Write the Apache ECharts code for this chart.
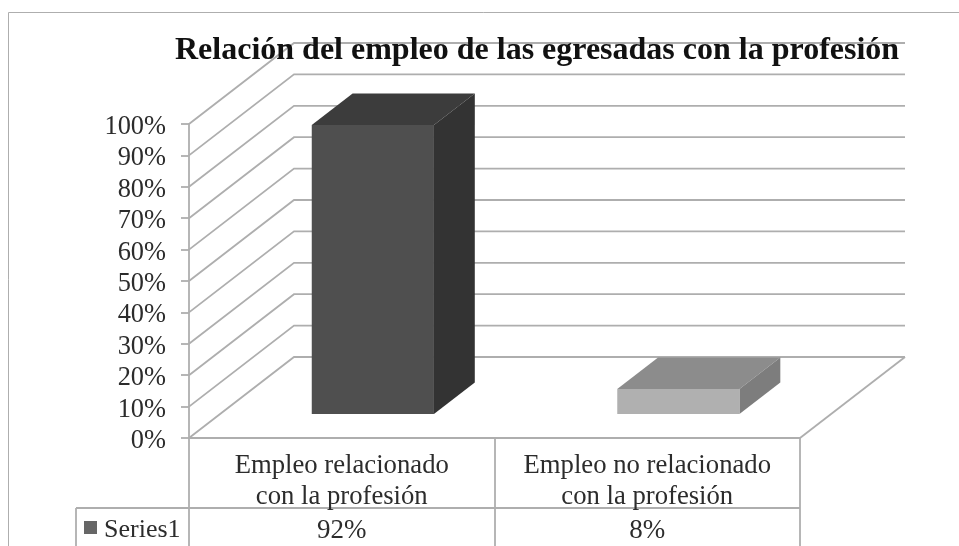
<!DOCTYPE html>
<html>
<head>
<meta charset="utf-8">
<style>html,body{margin:0;padding:0;background:#fff}#c{width:959px;height:546px;filter:blur(0.45px)}</style>
<script src="https://cdn.jsdelivr.net/npm/echarts@6/dist/echarts.min.js"></script>
</head>
<body>
<div id="c"></div>
<script>
const titleText = 'Relación del empleo de las egresadas con la profesión';
const categories = ['Empleo relacionado\ncon la profesión', 'Empleo no relacionado\ncon la profesión'];
const seriesName = 'Series1';
const seriesValues = [92, 8];
const gridValues = [0, 10, 20, 30, 40, 50, 60, 70, 80, 90, 100];
const faceColors = [
  { front: '#4f4f4f', top: '#3c3c3c', side: '#333333' },
  { front: '#b0b0b0', top: '#8c8c8c', side: '#7d7d7d' }
];

const LINE = '#aeaeae', TEXT = '#2c2c2c', FONT = '"Liberation Serif", serif';
const DX = 105, DY = -81;          // wall depth vector
const F0 = 24 / 81, F1 = 55.5 / 81; // bar depth start / end
const BAR = 0.4;                   // bar width as a share of the band

function wallLine(params, api) {
  const cs = params.coordSys;
  const y = api.coord([0, api.value(1)])[1];
  const style = { stroke: LINE, lineWidth: 1.8, fill: null };
  const kids = [{
    type: 'polyline',
    shape: { points: [[cs.x, y], [cs.x + DX, y + DY], [cs.x + cs.width + DX, y + DY]] },
    style
  }];
  if (api.value(1) === 0) {
    kids.push({
      type: 'line',
      shape: { x1: cs.x + cs.width, y1: y, x2: cs.x + cs.width + DX, y2: y + DY },
      style
    });
  }
  return { type: 'group', children: kids };
}

function bar3d(params, api) {
  const i = api.value(0);
  const c = api.coord([i, api.value(1)]);
  const b = api.coord([i, 0]);
  const w = api.size([1, 0])[0] * BAR;
  const x0 = c[0] - w / 2 + DX * F0, x1 = x0 + w;
  const yb = b[1] + DY * F0, yt = c[1] + DY * F0;
  const ddx = DX * (F1 - F0), ddy = DY * (F1 - F0);
  const col = faceColors[i];
  const poly = (pts, fill) => ({ type: 'polygon', shape: { points: pts }, style: { fill } });
  return {
    type: 'group',
    children: [
      poly([[x0, yt], [x1, yt], [x1 + ddx, yt + ddy], [x0 + ddx, yt + ddy]], col.top),
      poly([[x1, yb], [x1 + ddx, yb + ddy], [x1 + ddx, yt + ddy], [x1, yt]], col.side),
      poly([[x0, yb], [x1, yb], [x1, yt], [x0, yt]], col.front)
    ]
  };
}

const chart = echarts.init(document.getElementById('c'), null, { renderer: 'canvas' });
chart.setOption({
  animation: false,
  backgroundColor: '#ffffff',
  title: {
    text: titleText, left: 175, top: 35, padding: 0, z: 10,
    textStyle: { fontFamily: FONT, fontWeight: 'bold', fontSize: 32, color: '#111111' }
  },
  legend: {
    left: 84, top: 517, padding: 0, icon: 'rect', itemWidth: 13, itemHeight: 13,
    data: [{ name: seriesName, itemStyle: { color: '#666666' } }],
    formatter: name => '{a|' + name + '}',
    textStyle: {
      fontFamily: FONT, fontSize: 26, color: TEXT,
      rich: { a: { fontFamily: FONT, fontSize: 26, color: TEXT, padding: [5, 0, 0, 2] } }
    }
  },
  grid: { left: 189, top: 124, width: 611, height: 314, containLabel: false },
  xAxis: [{
    type: 'category', data: categories,
    axisLine: { show: true, lineStyle: { color: LINE, width: 1.8 } },
    axisTick: { show: true, length: 108, lineStyle: { color: LINE, width: 1.8 } },
    axisLabel: { margin: 12, interval: 0, lineHeight: 31, fontFamily: FONT, fontSize: 26.7, color: TEXT },
    splitLine: { show: false }
  }, {
    type: 'category', position: 'bottom',
    data: seriesValues.map(v => v + '%'),
    axisLine: { show: false }, axisTick: { show: false },
    axisLabel: { margin: 79, interval: 0, fontFamily: FONT, fontSize: 27, color: TEXT },
    splitLine: { show: false }
  }],
  yAxis: {
    type: 'value', min: 0, max: 100, interval: 10,
    axisLine: { show: true, lineStyle: { color: LINE, width: 1.8 } },
    axisTick: { show: true, length: 8, lineStyle: { color: LINE, width: 1.8 } },
    axisLabel: {
      margin: 23, formatter: v => '{a|' + v + '%}',
      rich: { a: { fontFamily: FONT, fontSize: 26.4, color: TEXT, padding: [6, 0, 0, 0] } }
    },
    splitLine: { show: false }
  },
  graphic: [
    { type: 'line', silent: true, shape: { x1: 8.5, y1: 12.5, x2: 959, y2: 12.5 }, style: { stroke: LINE, lineWidth: 1 } },
    { type: 'line', silent: true, shape: { x1: 8.5, y1: 12.5, x2: 8.5, y2: 546 }, style: { stroke: LINE, lineWidth: 1 } },
    { type: 'line', silent: true, shape: { x1: 76, y1: 508, x2: 800, y2: 508 }, style: { stroke: LINE, lineWidth: 1.8 } },
    { type: 'line', silent: true, shape: { x1: 76, y1: 508, x2: 76, y2: 546 }, style: { stroke: LINE, lineWidth: 1.8 } }
  ],
  series: [{
    type: 'custom', name: 'walls', silent: true, z: 1,
    renderItem: wallLine,
    encode: { x: 0, y: 1 },
    data: gridValues.map(v => [0, v])
  }, {
    type: 'custom', name: seriesName, z: 2,
    itemStyle: { color: '#666666' },
    renderItem: bar3d,
    encode: { x: 0, y: 1 },
    data: seriesValues.map((v, i) => [i, v])
  }]
});
</script>
</body>
</html>
